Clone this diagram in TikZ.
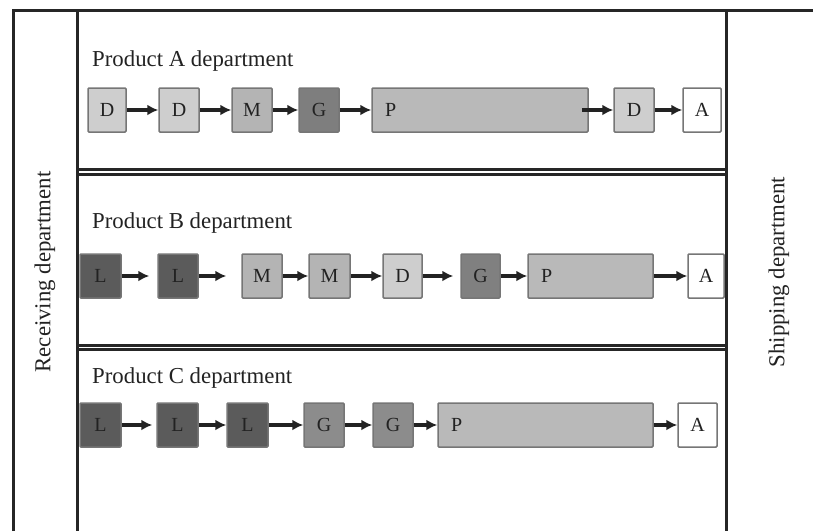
\documentclass[tikz,border=0pt]{standalone}
\usepackage{fontspec}
\setmainfont{Liberation Serif}
\usetikzlibrary{arrows.meta}

\definecolor{frame}{HTML}{262626}
\definecolor{edge}{HTML}{767676}
\definecolor{ink}{HTML}{222222}
\definecolor{cD}{HTML}{CECECE}
\definecolor{cM}{HTML}{B4B4B4}
\definecolor{cP}{HTML}{B9B9B9}
\definecolor{cGa}{HTML}{7E7E7E}
\definecolor{cGb}{HTML}{808080}
\definecolor{cGc}{HTML}{8C8C8C}
\definecolor{cL}{HTML}{5B5B5B}

\tikzset{
  wall/.style={draw=frame, line width=3pt},
  stage/.style={draw=edge, line width=1.5pt, rounded corners=1pt, minimum height=44pt,
    inner sep=0pt, text=ink, font=\fontsize{20}{24}\selectfont},
  dept/.style={text=ink, font=\fontsize{22.8}{26}\selectfont, inner sep=0pt},
  flow/.style={draw=ink, line width=3.3pt, -{Latex[length=11pt,width=11pt]}},
}

% stage box: name, left x, right x, centre y, fill, letter
\newcommand{\stagebox}[6]{%
  \node[stage, fill=#5, minimum width={(#3-#2)*1pt}] (#1) at ({(#2+#3)/2}, #4) {#6};}
% long stage box with its letter at the left end
\newcommand{\longbox}[6]{%
  \node[stage, fill=#5, text width={(#3-#2-26)*1pt}, inner xsep=13pt, align=left,
        minimum width={(#3-#2)*1pt}] (#1) at ({(#2+#3)/2}, #4) {#6};}

\begin{document}
\begin{tikzpicture}[x=1pt, y=-1pt]
\useasboundingbox (0,0) rectangle (813,531);

% outer frame and department walls
\draw[wall] (13,531) -- (13,10) -- (813,10);
\draw[wall] (77,10) -- (77,531);
\draw[wall] (726,10) -- (726,531);
\draw[wall] (77,169) -- (726,169);
\draw[wall] (77,174) -- (726,174);
\draw[wall] (77,345) -- (726,345);
\draw[wall] (77,349.5) -- (726,349.5);

% side departments
\node[dept, rotate=90] (recv) at (45,272) {Receiving department};
\node[dept, rotate=90] (ship) at (779,272) {Shipping department};

% department titles
\node[dept, anchor=base west] (tA) at (92,66) {Product A department};
\node[dept, anchor=base west] (tB) at (92,228) {Product B department};
\node[dept, anchor=base west] (tC) at (92,383) {Product C department};

% Product A line
\stagebox{a1}{88}{126}{110}{cD}{D}
\stagebox{a2}{159}{199}{110}{cD}{D}
\stagebox{a3}{232}{272}{110}{cM}{M}
\stagebox{a4}{299}{339}{110}{cGa}{G}
\longbox{a5}{372}{588}{110}{cP}{P}
\stagebox{a6}{614}{654}{110}{cD}{D}
\stagebox{a7}{683}{721}{110}{white}{A}
\draw[flow] (a1) -- (a2);
\draw[flow] (a2) -- (a3);
\draw[flow] (a3) -- (a4);
\draw[flow] (a4) -- (a5);
\draw[flow, shorten <=-7pt] (a5) -- (a6);
\draw[flow] (a6) -- (a7);

% Product B line
\stagebox{b1}{80}{121}{276}{cL}{L}
\stagebox{b2}{158}{198}{276}{cL}{L}
\stagebox{b3}{242}{282}{276}{cM}{M}
\stagebox{b4}{309}{350}{276}{cM}{M}
\stagebox{b5}{383}{422}{276}{cD}{D}
\stagebox{b6}{461}{500}{276}{cGb}{G}
\longbox{b7}{528}{653}{276}{cP}{P}
\stagebox{b8}{688}{724}{276}{white}{A}
\draw[flow, shorten >=8pt] (b1) -- (b2);
\draw[flow, shorten >=15pt] (b2) -- (b3);
\draw[flow] (b3) -- (b4);
\draw[flow] (b4) -- (b5);
\draw[flow, shorten >=7pt] (b5) -- (b6);
\draw[flow] (b6) -- (b7);
\draw[flow] (b7) -- (b8);

% Product C line
\stagebox{c1}{80}{121}{425}{cL}{L}
\stagebox{c2}{157}{198}{425}{cL}{L}
\stagebox{c3}{227}{268}{425}{cL}{L}
\stagebox{c4}{304}{344}{425}{cGc}{G}
\stagebox{c5}{373}{413}{425}{cGc}{G}
\longbox{c6}{438}{653}{425}{cP}{P}
\stagebox{c7}{678}{717}{425}{white}{A}
\draw[flow, shorten >=4pt] (c1) -- (c2);
\draw[flow] (c2) -- (c3);
\draw[flow] (c3) -- (c4);
\draw[flow] (c4) -- (c5);
\draw[flow] (c5) -- (c6);
\draw[flow] (c6) -- (c7);
\end{tikzpicture}
\end{document}
